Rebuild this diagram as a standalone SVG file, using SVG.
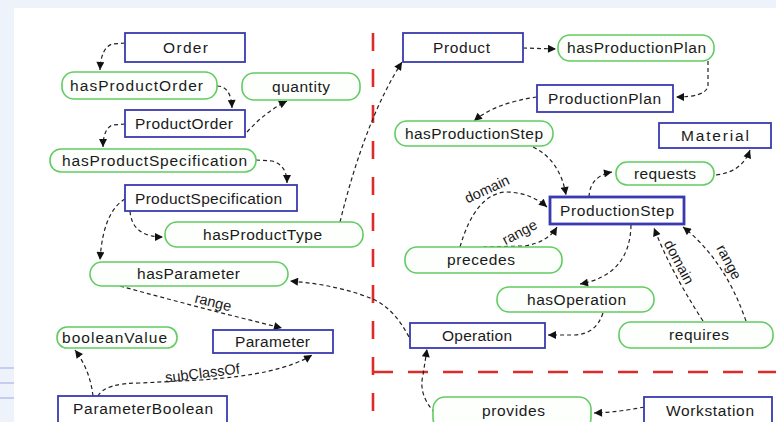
<svg xmlns="http://www.w3.org/2000/svg" width="776" height="422" viewBox="0 0 776 422">
<defs>
<marker id="ah" viewBox="0 0 10 10" refX="10" refY="5" markerWidth="9" markerHeight="8" markerUnits="userSpaceOnUse" orient="auto">
<path d="M0,0 L10,5 L0,10 z" fill="#111"/>
</marker>
<style>
.cls rect{fill:#fff;stroke:#3a3ab0;stroke-width:1.8}
.prop rect{fill:#fcfffc;stroke:#62cc62;stroke-width:1.6}
text{font-family:"Liberation Sans",Arial,sans-serif;font-size:15.5px;fill:#1a1a1a;text-anchor:middle}
.lbl{font-size:14.5px}
#connectors path{fill:none;stroke:#222;stroke-width:1.2;stroke-dasharray:4 3;marker-end:url(#ah)}
.sep{fill:none;stroke:#dd2a2a;stroke-width:2.6;stroke-dasharray:18 18}
</style>
</defs>
<rect x="0" y="0" width="776" height="422" fill="#eef2fa"/>
<rect x="14" y="8" width="762" height="414" fill="#fff"/>
<g stroke="#b8c0ec" stroke-width="1.5">
<line x1="0" y1="368" x2="14" y2="368"/>
<line x1="0" y1="383" x2="14" y2="383"/>
<line x1="0" y1="398" x2="14" y2="398"/>
</g>
<g id="separators">
<path class="sep" d="M373,33 L373,422"/>
<path class="sep" d="M373,372 L776,372" style="stroke-dasharray:20 15"/>
</g>
<g id="connectors">
<path d="M125,43 L112,44 Q101,48 100,70"/>
<path d="M217,86 Q231,86 232,108"/>
<path d="M247,132 Q265,112 287,101"/>
<path d="M125,124 L112,125 Q103,130 103,147"/>
<path d="M256,160 L272,161 Q287,165 287,183"/>
<path d="M125,199 Q103,212 100,260"/>
<path d="M130,211 Q132,237 163,237"/>
<path d="M340,222 Q365,120 402,62"/>
<path d="M523,48 L556,49"/>
<path d="M708,61 L708,86 Q706,97 676,97"/>
<path d="M537,97 Q495,103 474,121"/>
<path d="M533,147 Q560,160 566,195"/>
<path d="M589,197 Q590,176 612,172"/>
<path d="M716,175 Q742,172 750,150"/>
<path d="M460,247 Q475,195 505,192 Q530,192 547,207"/>
<path d="M483,247 L525,246 Q548,242 557,227"/>
<path d="M631,225 Q630,275 580,284"/>
<path d="M603,313 Q596,334 575,335 L548,335"/>
<path d="M703,321 Q670,270 654,228"/>
<path d="M746,321 Q725,260 683,227"/>
<path d="M409,337 Q395,310 375,300 Q340,285 290,281"/>
<path d="M120,286 Q200,308 282,328"/>
<path d="M93,396 Q90,370 75,350"/>
<path d="M98,396 Q105,383 140,383 L200,380 Q280,375 312,355"/>
<path d="M644,407 Q620,412 594,413"/>
<path d="M435,413 Q418,395 423,375 L427,349"/>
</g>
<g id="edge-labels">
<text class="lbl" x="213" y="307" transform="rotate(14 213 303)">range</text>
<text class="lbl" x="203" y="378" transform="rotate(-7 203 378)">subClassOf</text>
<text class="lbl" x="487" y="194" transform="rotate(-25 487 189)">domain</text>
<text class="lbl" x="520" y="237" transform="rotate(-28 520 233)">range</text>
<text class="lbl" x="679" y="267" transform="rotate(62 679 262)">domain</text>
<text class="lbl" x="729" y="267" transform="rotate(62 729 262)">range</text>
</g>
<g id="Order" class="cls"><rect x="125" y="33" width="120" height="29"/><text x="185.5" y="53" textLength="45">Order</text></g>
<g id="ProductOrder" class="cls"><rect x="125" y="110" width="120" height="27"/><text x="184" y="129" textLength="98">ProductOrder</text></g>
<g id="ProductSpecification" class="cls"><rect x="125" y="185" width="172" height="26"/><text x="208.5" y="203.5" textLength="147">ProductSpecification</text></g>
<g id="Parameter" class="cls"><rect x="213" y="330" width="120" height="23"/><text x="272.5" y="347" textLength="75">Parameter</text></g>
<g id="ParameterBoolean" class="cls"><rect x="58" y="396" width="169" height="34"/><text x="143" y="414" textLength="140">ParameterBoolean</text></g>
<g id="Product" class="cls"><rect x="403" y="33" width="120" height="29"/><text x="461.5" y="53" textLength="57">Product</text></g>
<g id="ProductionPlan" class="cls"><rect x="537" y="85" width="136" height="27"/><text x="604.5" y="104" textLength="113">ProductionPlan</text></g>
<g id="Material" class="cls"><rect x="659" y="123" width="112" height="25"/><text x="715" y="141" textLength="68">Material</text></g>
<g id="ProductionStep" class="cls"><rect x="550" y="197" width="134" height="27" style="stroke-width:2.8"/><text x="617" y="216" textLength="114">ProductionStep</text></g>
<g id="Operation" class="cls"><rect x="410" y="323" width="135" height="25"/><text x="477" y="341" textLength="70">Operation</text></g>
<g id="Workstation" class="cls"><rect x="644" y="397" width="128" height="33"/><text x="710" y="416" textLength="88">Workstation</text></g>
<g id="hasProductOrder" class="prop"><rect x="62" y="72" width="155" height="27" rx="12"/><text x="136.5" y="91" textLength="133">hasProductOrder</text></g>
<g id="quantity" class="prop"><rect x="242" y="73" width="118" height="27" rx="12"/><text x="301" y="92" textLength="58">quantity</text></g>
<g id="hasProductSpecification" class="prop"><rect x="50" y="149" width="206" height="23" rx="11"/><text x="154.5" y="166" textLength="185">hasProductSpecification</text></g>
<g id="hasProductType" class="prop"><rect x="165" y="222" width="198" height="25" rx="12"/><text x="262.5" y="240" textLength="119">hasProductType</text></g>
<g id="hasParameter" class="prop"><rect x="90" y="262" width="198" height="24" rx="12"/><text x="188.5" y="279" textLength="103">hasParameter</text></g>
<g id="booleanValue" class="prop"><rect x="57" y="327" width="120" height="21" rx="10"/><text x="114.5" y="342.5" textLength="105">booleanValue</text></g>
<g id="hasProductionPlan" class="prop"><rect x="558" y="35" width="156" height="26" rx="12"/><text x="636.5" y="53" textLength="139">hasProductionPlan</text></g>
<g id="hasProductionStep" class="prop"><rect x="395" y="121" width="158" height="25" rx="12"/><text x="474" y="139" textLength="138">hasProductionStep</text></g>
<g id="requests" class="prop"><rect x="616" y="162" width="98" height="23" rx="11"/><text x="665" y="178.5" textLength="62">requests</text></g>
<g id="precedes" class="prop"><rect x="405" y="247" width="157" height="26" rx="12"/><text x="481" y="265" textLength="68">precedes</text></g>
<g id="hasOperation" class="prop"><rect x="497" y="287" width="157" height="25" rx="12"/><text x="576.5" y="304.5" textLength="99">hasOperation</text></g>
<g id="requires" class="prop"><rect x="619" y="322" width="154" height="26" rx="12"/><text x="699" y="340" textLength="60">requires</text></g>
<g id="provides" class="prop"><rect x="433" y="397" width="158" height="33" rx="12"/><text x="513.5" y="416" textLength="63">provides</text></g>
</svg>
